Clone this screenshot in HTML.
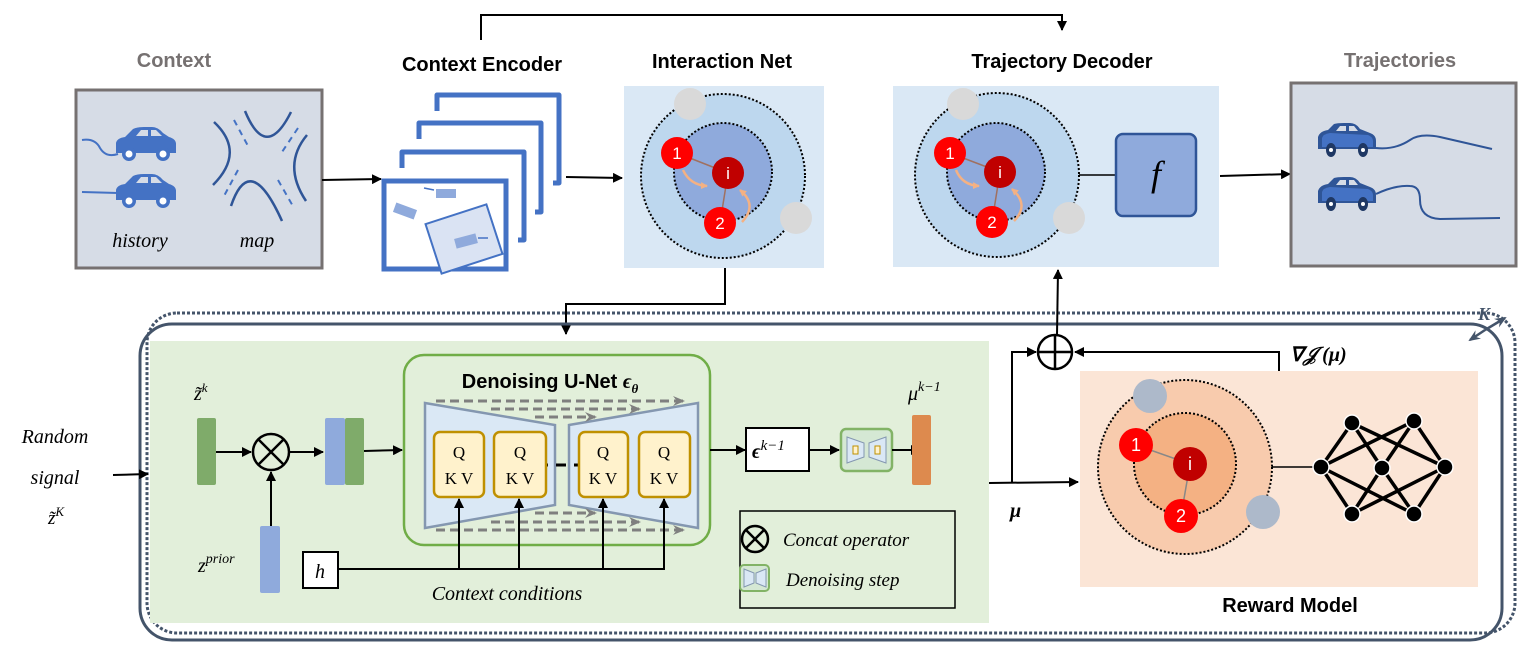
<!DOCTYPE html>
<html><head><meta charset="utf-8"><style>
html,body{margin:0;padding:0;background:#fff}
svg{display:block}
.t{font-family:"Liberation Sans",sans-serif;font-weight:bold}
.m{font-family:"Liberation Serif",serif;font-style:italic}
</style></head><body>
<svg width="1528" height="661" viewBox="0 0 1528 661" xmlns="http://www.w3.org/2000/svg">
<defs>
<marker id="ah" markerWidth="10" markerHeight="10" refX="9" refY="5" orient="auto" markerUnits="userSpaceOnUse"><path d="M0,0 L10,5 L0,10 Z" fill="#000"/></marker>
<marker id="ag" markerWidth="12" markerHeight="10" refX="10" refY="5" orient="auto" markerUnits="userSpaceOnUse"><path d="M0,0 L12,5 L0,10 L4,5Z" fill="#7f7f7f"/></marker>
<marker id="ao" markerWidth="7" markerHeight="7" refX="6" refY="3.5" orient="auto" markerUnits="userSpaceOnUse"><path d="M0,0 L7,3.5 L0,7 Z" fill="#f4b183"/></marker>
<marker id="as" markerWidth="12" markerHeight="10" refX="10" refY="5" orient="auto" markerUnits="userSpaceOnUse"><path d="M0,0 L12,5 L0,10 L4,5Z" fill="#44546a"/></marker>
<g id="car">
<path d="M0,26 L0,16 Q1,11 9,10 L17,2 Q21,0 28,0 L36,0 Q42,0 47,6 L53,10 Q60,12 60,17 L60,26 Z" fill="#4472c4"/>
<path d="M20,9 L25,3 L32,3 L32,9Z M35,9 L35,3 L40,3 L46,9Z" fill="#d6dce6"/>
<circle cx="13" cy="27" r="7" fill="#4472c4"/><circle cx="13" cy="27" r="3.5" fill="#fff"/>
<circle cx="47" cy="27" r="7" fill="#4472c4"/><circle cx="47" cy="27" r="3.5" fill="#fff"/>
</g>
<g id="car2">
<path d="M0,26 L0,14 Q2,8 10,7 L16,1 Q19,0 26,0 L32,0 Q38,0 42,6 L52,10 Q58,12 58,18 L58,26 Z" fill="#2f5597"/>
<path d="M4,24 L4,15 Q5,11 12,10 L50,12 Q55,14 55,18 L55,24Z" fill="#4472c4"/>
<path d="M18,8 L22,3 L28,3 L28,8Z M31,8 L31,3 L36,3 L40,8Z" fill="#d6dce6"/>
<ellipse cx="13" cy="27" rx="5" ry="7" fill="#1f3864"/><circle cx="13" cy="27" r="2" fill="#fff"/>
<ellipse cx="45" cy="27" rx="5" ry="7" fill="#1f3864"/><circle cx="45" cy="27" r="2" fill="#fff"/>
</g>
</defs>

<!-- top connector -->
<path d="M481,40 L481,15 L1062,15 L1062,30" fill="none" stroke="#000" stroke-width="2" marker-end="url(#ah)"/>

<!-- Context -->
<text x="174" y="67" text-anchor="middle" class="t" font-size="20" fill="#767171">Context</text>
<rect x="76" y="90" width="246" height="178" fill="#d6dce6" stroke="#767171" stroke-width="3"/>
<path d="M82,140 Q95,138 100,148 Q106,158 118,154" fill="none" stroke="#4472c4" stroke-width="2"/>
<use href="#car" x="116" y="127"/>
<line x1="82" y1="192" x2="118" y2="193" stroke="#4472c4" stroke-width="2"/>
<use href="#car" x="116" y="174"/>
<g fill="none" stroke="#2f5597" stroke-width="2.5">
<path d="M214,122 Q246,152 213,185"/>
<path d="M245,111 Q266,162 291,112"/>
<path d="M307,135 Q282,165 306,201"/>
<path d="M231,206 Q250,150 282,221"/>
</g>
<g fill="none" stroke="#4472c4" stroke-width="2" stroke-dasharray="6,5">
<path d="M234,120 L248,146"/><path d="M298,128 L282,152"/>
<path d="M238,170 L224,196"/><path d="M278,180 L294,208"/>
</g>
<text x="140" y="247" text-anchor="middle" class="m" font-size="20">history</text>
<text x="257" y="247" text-anchor="middle" class="m" font-size="20">map</text>
<line x1="322" y1="180" x2="381" y2="179" stroke="#000" stroke-width="2" marker-end="url(#ah)"/>

<!-- Context Encoder -->
<text x="482" y="71" text-anchor="middle" class="t" font-size="20">Context Encoder</text>
<g fill="none" stroke="#4472c4" stroke-width="5" stroke-linejoin="round">
<path d="M437,111 L437,95 L559,95 L559,183 L553,183"/>
<path d="M419,139 L419,123 L541,123 L541,212 L535,212"/>
<path d="M402,168 L402,152 L524,152 L524,240 L518,240"/>
</g>
<rect x="384" y="181" width="122" height="88" fill="#fff" stroke="#4472c4" stroke-width="5"/>
<rect x="432" y="213" width="64" height="52" fill="#dae3f3" stroke="#4472c4" stroke-width="2" transform="rotate(-18 464 239)"/>
<rect x="436" y="189" width="20" height="9" fill="#8faadc"/><line x1="424" y1="188" x2="434" y2="190" stroke="#4472c4" stroke-width="1.5"/>
<rect x="394" y="206" width="22" height="10" fill="#8faadc" transform="rotate(20 405 211)"/>
<rect x="455" y="236" width="22" height="10" fill="#8faadc" transform="rotate(-15 466 241)"/><line x1="478" y1="238" x2="488" y2="238" stroke="#4472c4" stroke-width="1.5"/>
<line x1="566" y1="177" x2="622" y2="178" stroke="#000" stroke-width="2" marker-end="url(#ah)"/>

<!-- Interaction Net -->
<text x="722" y="68" text-anchor="middle" class="t" font-size="20">Interaction Net</text>
<rect x="624" y="86" width="200" height="182" fill="#dae8f5"/>
<circle cx="723" cy="176" r="82" fill="#bdd7ee" stroke="#000" stroke-width="2" stroke-dasharray="2,2"/>
<circle cx="723" cy="172" r="49" fill="#8faadc" stroke="#000" stroke-width="2" stroke-dasharray="2,2"/>
<circle cx="690" cy="104" r="16" fill="#d9d9d9"/><circle cx="796" cy="218" r="16" fill="#d9d9d9"/>
<line x1="677" y1="153" x2="728" y2="173" stroke="#a07060" stroke-width="1.5"/>
<line x1="728" y1="173" x2="720" y2="223" stroke="#a07060" stroke-width="1.5"/>
<path d="M683,170 Q690,185 707,186" fill="none" stroke="#f4b183" stroke-width="2.5" marker-end="url(#ao)"/>
<path d="M742,222 Q758,205 740,190" fill="none" stroke="#f4b183" stroke-width="2.5" marker-end="url(#ao)"/>
<circle cx="677" cy="153" r="16" fill="#f00"/><circle cx="728" cy="173" r="16" fill="#c00000"/><circle cx="720" cy="223" r="16" fill="#f00"/>
<g font-family="Liberation Sans,sans-serif" font-size="17" fill="#fff" text-anchor="middle">
<text x="677" y="159">1</text><text x="728" y="179">i</text><text x="720" y="229">2</text></g>
<path d="M725,268 L725,304 L566,304 L566,334" fill="none" stroke="#000" stroke-width="2" marker-end="url(#ah)"/>

<!-- Trajectory Decoder -->
<text x="1062" y="68" text-anchor="middle" class="t" font-size="20">Trajectory Decoder</text>
<rect x="893" y="86" width="326" height="181" fill="#dae8f5"/>
<circle cx="997" cy="175" r="82" fill="#bdd7ee" stroke="#000" stroke-width="2" stroke-dasharray="2,2"/>
<circle cx="996" cy="172" r="49" fill="#8faadc" stroke="#000" stroke-width="2" stroke-dasharray="2,2"/>
<circle cx="963" cy="104" r="16" fill="#d9d9d9"/><circle cx="1069" cy="218" r="16" fill="#d9d9d9"/>
<line x1="950" y1="153" x2="1000" y2="172" stroke="#a07060" stroke-width="1.5"/>
<line x1="1000" y1="172" x2="992" y2="222" stroke="#a07060" stroke-width="1.5"/>
<path d="M956,170 Q962,185 979,186" fill="none" stroke="#f4b183" stroke-width="2.5" marker-end="url(#ao)"/>
<path d="M1014,221 Q1030,205 1012,189" fill="none" stroke="#f4b183" stroke-width="2.5" marker-end="url(#ao)"/>
<circle cx="950" cy="153" r="16" fill="#f00"/><circle cx="1000" cy="172" r="16" fill="#c00000"/><circle cx="992" cy="222" r="16" fill="#f00"/>
<g font-family="Liberation Sans,sans-serif" font-size="17" fill="#fff" text-anchor="middle">
<text x="950" y="159">1</text><text x="1000" y="178">i</text><text x="992" y="228">2</text></g>
<line x1="1079" y1="175" x2="1116" y2="175" stroke="#000" stroke-width="1.5"/>
<rect x="1116" y="134" width="80" height="82" rx="7" fill="#8faadc" stroke="#2f5597" stroke-width="2.5"/>
<text x="1156" y="186" text-anchor="middle" class="m" font-size="36">f</text>
<line x1="1220" y1="176" x2="1290" y2="174" stroke="#000" stroke-width="2" marker-end="url(#ah)"/>

<!-- Trajectories -->
<text x="1400" y="67" text-anchor="middle" class="t" font-size="20" fill="#767171">Trajectories</text>
<rect x="1291" y="83" width="225" height="183" fill="#d6dce6" stroke="#767171" stroke-width="3"/>
<path d="M1376,148 Q1395,150 1410,140 Q1420,133 1440,137 L1492,149" fill="none" stroke="#2f5597" stroke-width="2"/>
<use href="#car2" x="1318" y="123"/>
<path d="M1376,194 Q1395,185 1410,186 Q1420,186 1420,200 Q1420,218 1440,219 L1500,218" fill="none" stroke="#2f5597" stroke-width="2"/>
<use href="#car2" x="1318" y="177"/>

<!-- loop -->
<rect x="147" y="313" width="1368" height="320" rx="30" fill="none" stroke="#44546a" stroke-width="3" stroke-dasharray="3,2"/>
<rect x="140" y="324" width="1362" height="316" rx="32" fill="none" stroke="#44546a" stroke-width="3"/>
<text x="1484" y="320" class="m" font-size="18" font-weight="bold" fill="#44546a" text-anchor="middle">K</text>
<line x1="1485" y1="330" x2="1470" y2="340" stroke="#44546a" stroke-width="2.5" marker-end="url(#as)"/>
<line x1="1485" y1="330" x2="1505" y2="318" stroke="#44546a" stroke-width="2.5" marker-end="url(#as)"/>

<!-- green panel -->
<rect x="150" y="341" width="839" height="282" fill="#e2efda"/>
<rect x="404" y="355" width="306" height="190" rx="20" fill="#e2efda" stroke="#70ad47" stroke-width="2.5"/>
<text x="550" y="388" text-anchor="middle" class="t" font-size="20">Denoising U-Net <tspan class="m" font-weight="bold">ϵ<tspan font-size="13" dy="5">θ</tspan></tspan></text>
<polygon points="425,403 555,425 555,505 425,528" fill="#dae8f5" stroke="#8497b0" stroke-width="2.5"/>
<polygon points="569,425 698,403 698,528 569,505" fill="#dae8f5" stroke="#8497b0" stroke-width="2.5"/>
<g fill="none" stroke="#7f7f7f" stroke-width="3" stroke-dasharray="9,5" marker-end="url(#ag)">
<line x1="436" y1="401" x2="683" y2="401"/><line x1="491" y1="409" x2="639" y2="409"/><line x1="535" y1="417" x2="595" y2="417"/>
<line x1="535" y1="513" x2="595" y2="513"/><line x1="491" y1="522" x2="639" y2="522"/><line x1="436" y1="530" x2="683" y2="530"/>
</g>
<line x1="546" y1="465" x2="579" y2="465" stroke="#000" stroke-width="3" stroke-dasharray="10,8" stroke-dashoffset="-10"/>
<g fill="#fff2cc" stroke="#bf9000" stroke-width="2.5">
<rect x="434" y="432" width="50" height="65" rx="6"/><rect x="494" y="432" width="52" height="65" rx="6"/>
<rect x="579" y="432" width="49" height="65" rx="6"/><rect x="639" y="432" width="51" height="65" rx="6"/></g>
<g font-family="Liberation Serif,serif" font-size="17" text-anchor="middle">
<text x="459" y="458">Q</text><text x="459" y="484">K V</text>
<text x="520" y="458">Q</text><text x="520" y="484">K V</text>
<text x="603" y="458">Q</text><text x="603" y="484">K V</text>
<text x="664" y="458">Q</text><text x="664" y="484">K V</text></g>
<g stroke="#000" stroke-width="2" fill="none" marker-end="url(#ah)">
<line x1="459" y1="569" x2="459" y2="499"/><line x1="519" y1="569" x2="519" y2="499"/>
<line x1="603" y1="569" x2="603" y2="499"/><line x1="664" y1="569" x2="664" y2="499"/></g>
<line x1="338" y1="569" x2="665" y2="569" stroke="#000" stroke-width="2"/>
<rect x="303" y="552" width="35" height="36" fill="#fff" stroke="#000" stroke-width="2"/>
<text x="320" y="578" text-anchor="middle" class="m" font-size="20">h</text>
<text x="507" y="600" text-anchor="middle" class="m" font-size="20">Context conditions</text>

<text x="194" y="400" class="m" font-size="20">z̃<tspan font-size="13" dy="-8">k</tspan></text>
<rect x="197" y="418" width="19" height="67" rx="2" fill="#7fab6a"/>
<line x1="216" y1="452" x2="251" y2="452" stroke="#000" stroke-width="2" marker-end="url(#ah)"/>
<circle cx="271" cy="452" r="18" fill="none" stroke="#000" stroke-width="2.5"/>
<path d="M258,439 L284,465 M284,439 L258,465" stroke="#000" stroke-width="2.5"/>
<line x1="290" y1="452" x2="323" y2="452" stroke="#000" stroke-width="2" marker-end="url(#ah)"/>
<rect x="325" y="418" width="20" height="67" rx="2" fill="#8faadc"/>
<rect x="345" y="418" width="19" height="67" rx="2" fill="#7fab6a"/>
<line x1="364" y1="451" x2="402" y2="450" stroke="#000" stroke-width="2" marker-end="url(#ah)"/>
<rect x="260" y="526" width="20" height="67" rx="2" fill="#8faadc"/>
<line x1="271" y1="526" x2="271" y2="472" stroke="#000" stroke-width="2" marker-end="url(#ah)"/>
<text x="198" y="572" class="m" font-size="20">z<tspan font-size="14" dy="-9">prior</tspan></text>

<line x1="710" y1="450" x2="745" y2="450" stroke="#000" stroke-width="2" marker-end="url(#ah)"/>
<rect x="746" y="428" width="63" height="43" fill="#fff" stroke="#000" stroke-width="2"/>
<text x="752" y="458" class="m" font-size="20" font-weight="bold">ϵ<tspan font-size="15" dy="-8" font-weight="normal">k−1</tspan></text>
<line x1="809" y1="450" x2="839" y2="450" stroke="#000" stroke-width="2" marker-end="url(#ah)"/>
<g>
<rect x="841" y="429" width="51" height="42" rx="5" fill="#d5e8d4" stroke="#82b366" stroke-width="2.5"/>
<polygon points="847,437 864,443 864,457 847,463" fill="#dae8f5" stroke="#8497b0"/>
<polygon points="869,443 886,437 886,463 869,457" fill="#dae8f5" stroke="#8497b0"/>
<rect x="853" y="446" width="5" height="8" fill="#fff2cc" stroke="#bf9000"/><rect x="875" y="446" width="5" height="8" fill="#fff2cc" stroke="#bf9000"/>
</g>
<line x1="892" y1="450" x2="920" y2="450" stroke="#000" stroke-width="2" marker-end="url(#ah)"/>
<rect x="912" y="415" width="19" height="70" rx="2" fill="#dd8a4e"/>
<text x="908" y="400" class="m" font-size="20">μ<tspan font-size="14" dy="-9">k−1</tspan></text>

<rect x="740" y="511" width="215" height="97" fill="none" stroke="#000" stroke-width="1.5"/>
<circle cx="755" cy="539" r="13" fill="none" stroke="#000" stroke-width="2.5"/>
<path d="M746,530 L764,548 M764,530 L746,548" stroke="#000" stroke-width="2.5"/>
<text x="783" y="546" class="m" font-size="19">Concat operator</text>
<g>
<rect x="740" y="565" width="29" height="26" rx="4" fill="#d5e8d4" stroke="#82b366" stroke-width="2"/>
<polygon points="744,569 754,573 754,583 744,587" fill="#dae8f5" stroke="#8497b0"/>
<polygon points="756,573 766,569 766,587 756,583" fill="#dae8f5" stroke="#8497b0"/>
</g>
<text x="786" y="586" class="m" font-size="19">Denoising step</text>

<!-- random signal -->
<text x="55" y="443" text-anchor="middle" class="m" font-size="20">Random</text>
<text x="55" y="484" text-anchor="middle" class="m" font-size="20">signal</text>
<text x="48" y="524" class="m" font-size="19">z̃<tspan font-size="13" dy="-8">K</tspan></text>
<line x1="113" y1="475" x2="148" y2="474" stroke="#000" stroke-width="2" marker-end="url(#ah)"/>

<!-- mu path -->
<line x1="989" y1="483" x2="1078" y2="482" stroke="#000" stroke-width="2" marker-end="url(#ah)"/>
<text x="1010" y="517" class="m" font-size="20" font-weight="bold">μ</text>
<path d="M1012,483 L1012,352 L1036,352" fill="none" stroke="#000" stroke-width="2" marker-end="url(#ah)"/>
<path d="M1279,371 L1279,352 L1075,352" fill="none" stroke="#000" stroke-width="2" marker-end="url(#ah)"/>
<circle cx="1055" cy="352" r="17" fill="none" stroke="#000" stroke-width="2.5"/>
<path d="M1038,352 L1072,352 M1055,335 L1055,369" stroke="#000" stroke-width="2.5"/>
<line x1="1057" y1="335" x2="1058" y2="270" stroke="#000" stroke-width="2" marker-end="url(#ah)"/>
<text x="1290" y="361" class="m" font-size="20" font-weight="bold">∇𝒥 (μ)</text>

<!-- Reward model -->
<rect x="1080" y="371" width="398" height="216" fill="#fbe5d6"/>
<circle cx="1185" cy="467" r="87" fill="#f8cbad" stroke="#000" stroke-width="2" stroke-dasharray="2,2"/>
<circle cx="1185" cy="464" r="51" fill="#f4b183" stroke="#000" stroke-width="2" stroke-dasharray="2,2"/>
<circle cx="1150" cy="396" r="17" fill="#adb9ca"/><circle cx="1263" cy="512" r="17" fill="#adb9ca"/>
<line x1="1136" y1="445" x2="1190" y2="464" stroke="#888" stroke-width="1.5"/>
<line x1="1190" y1="464" x2="1181" y2="516" stroke="#888" stroke-width="1.5"/>
<circle cx="1136" cy="445" r="17" fill="#f00"/><circle cx="1190" cy="464" r="17" fill="#c00000"/><circle cx="1181" cy="516" r="17" fill="#f00"/>
<g font-family="Liberation Sans,sans-serif" font-size="18" fill="#fff" text-anchor="middle">
<text x="1136" y="451">1</text><text x="1190" y="470">i</text><text x="1181" y="522">2</text></g>
<line x1="1272" y1="467" x2="1321" y2="467" stroke="#000" stroke-width="1.5"/>
<g stroke="#000" stroke-width="3.5">
<line x1="1321" y1="467" x2="1352" y2="423"/><line x1="1321" y1="467" x2="1352" y2="514"/>
<line x1="1321" y1="467" x2="1414" y2="421"/><line x1="1321" y1="467" x2="1414" y2="514"/>
<line x1="1445" y1="467" x2="1352" y2="423"/><line x1="1445" y1="467" x2="1352" y2="514"/>
<line x1="1445" y1="467" x2="1414" y2="421"/><line x1="1445" y1="467" x2="1414" y2="514"/>
<line x1="1382" y1="468" x2="1352" y2="423"/><line x1="1382" y1="468" x2="1352" y2="514"/>
<line x1="1382" y1="468" x2="1414" y2="421"/><line x1="1382" y1="468" x2="1414" y2="514"/>
</g>
<g fill="#000" stroke="#fff" stroke-width="1.5">
<circle cx="1352" cy="423" r="8"/><circle cx="1414" cy="421" r="8"/><circle cx="1321" cy="467" r="8"/>
<circle cx="1382" cy="468" r="8"/><circle cx="1445" cy="467" r="8"/><circle cx="1352" cy="514" r="8"/><circle cx="1414" cy="514" r="8"/></g>
<text x="1290" y="612" text-anchor="middle" class="t" font-size="20">Reward Model</text>
</svg>
</body></html>
